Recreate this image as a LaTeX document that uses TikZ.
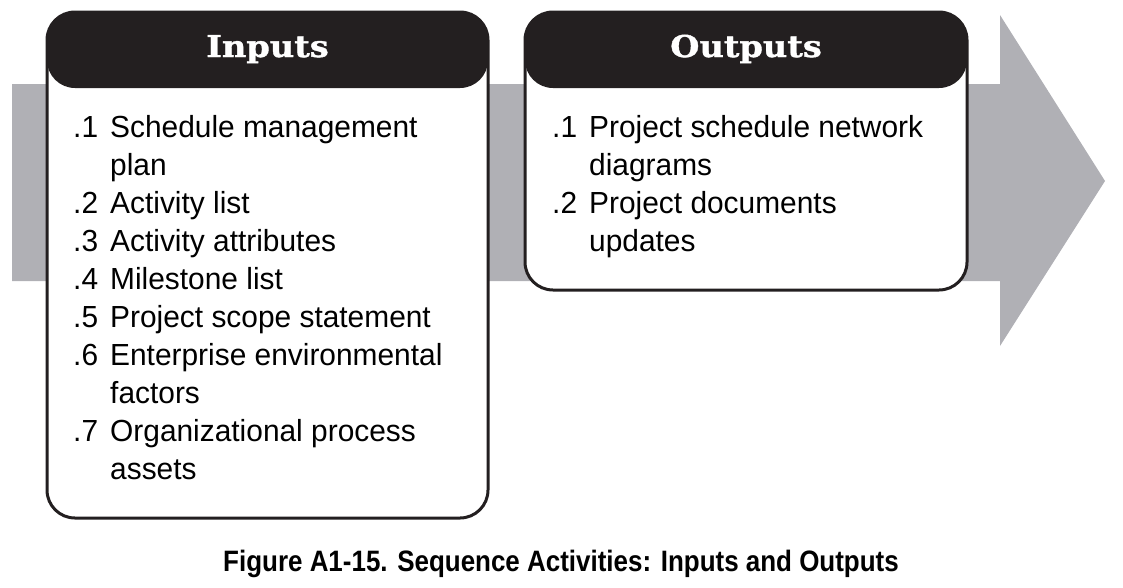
\documentclass[tikz,border=0pt]{standalone}
\usepackage{fontspec}
\setmainfont{Liberation Sans}[FakeStretch=0.98]
\newfontfamily\capfont{Liberation Sans}[FakeStretch=0.88]
\newfontfamily\headfont{DejaVu Serif}[FakeStretch=1.12, BoldFeatures={FakeBold=1.2}]
\definecolor{arrowgray}{RGB}{176,176,181}
\definecolor{headblack}{RGB}{35,31,32}
\begin{document}
\begin{tikzpicture}[x=1pt,y=-1pt,
  box/.style={draw=headblack, line width=3pt, rounded corners=28pt, inner sep=0pt, fill=white,
    path picture={\fill[headblack] ([yshift=3pt]path picture bounding box.north west) rectangle ([yshift=-76pt]path picture bounding box.north east);}},
  head/.style={text=white, font=\headfont\bfseries\fontsize{30}{33}\selectfont, anchor=base, inner sep=0pt},
  list/.style={anchor=base west, inner sep=0pt, font=\fontsize{30.5}{38}\selectfont},
  captext/.style={anchor=base, inner sep=0pt, font=\capfont\bfseries\fontsize{29.5}{33}\selectfont}
]
\useasboundingbox (0,0) rectangle (1123,587);
% big gray arrow
\fill[arrowgray] (12,84) -- (1000,84) -- (1000,15) -- (1105,181) -- (1000,346) -- (1000,281) -- (12,281) -- cycle;
% boxes
\node[box, minimum width=441pt, minimum height=506pt] (inbox) at (267.5,265) {};
\node[box, minimum width=442pt, minimum height=278pt] (outbox) at (746,151) {};
% headers
\node[head] (inhead) at (267.5,57) {Inputs};
\node[head] (outhead) at (746,57) {Outputs};
% lists
\node[list] (inlist) at (73,137) {\begin{tabular}[t]{@{}p{37pt}@{}l@{}}
.1 & Schedule management\\
   & plan\\
.2 & Activity list\\
.3 & Activity attributes\\
.4 & Milestone list\\
.5 & Project scope statement\\
.6 & Enterprise environmental\\
   & factors\\
.7 & Organizational process\\
   & assets
\end{tabular}};
\node[list] (outlist) at (552,137) {\begin{tabular}[t]{@{}p{37pt}@{}l@{}}
.1 & Project schedule network\\
   & diagrams\\
.2 & Project documents\\
   & updates
\end{tabular}};
% caption
\node[captext] (caption) at (561,571) {Figure A1-15. Sequence Activities: Inputs and Outputs};
\end{tikzpicture}
\end{document}
